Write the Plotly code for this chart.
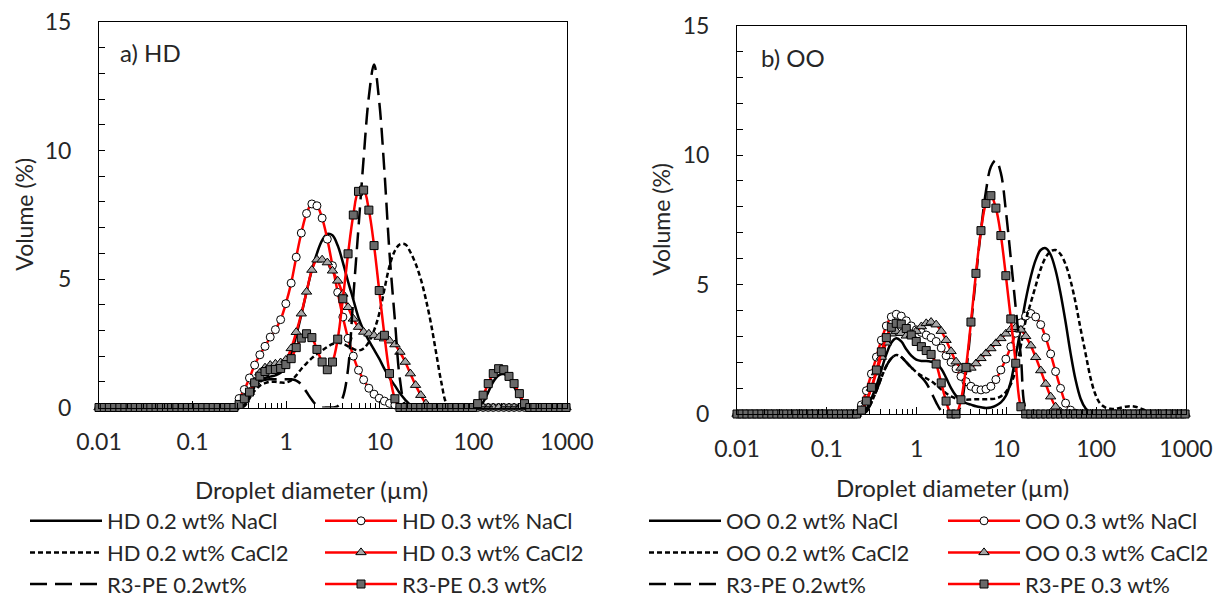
import plotly.graph_objects as go

# Mastersizer size classes (µm) within 0.01-1000
SIZES = [0.0100, 0.0114, 0.0129, 0.0147, 0.0167, 0.0189, 0.0215, 0.0244, 0.0278, 0.0315,
         0.0358, 0.0407, 0.0463, 0.0526, 0.0597, 0.0679, 0.0771, 0.0876, 0.0995, 0.113,
         0.128, 0.146, 0.166, 0.188, 0.214, 0.243, 0.276, 0.314, 0.357, 0.405,
         0.460, 0.523, 0.594, 0.675, 0.767, 0.872, 0.991, 1.13, 1.28, 1.45,
         1.65, 1.88, 2.13, 2.42, 2.75, 3.12, 3.55, 4.03, 4.58, 5.21,
         5.92, 6.72, 7.64, 8.68, 9.86, 11.2, 12.7, 14.5, 16.4, 18.7,
         21.2, 24.1, 27.4, 31.1, 35.3, 40.1, 45.6, 51.8, 58.9, 66.9,
         76.0, 86.4, 98.1, 111, 127, 144, 163, 186, 211, 240,
         272, 310, 352, 400, 454, 516, 586, 666, 756, 859,
         976]

# ---------------- a) HD ----------------
HD_NACL_02 = [0, 0, 0, 0, 0, 0, 0, 0, 0, 0,
              0, 0, 0, 0, 0, 0, 0, 0, 0, 0,
              0, 0, 0, 0, 0, 0, 0, 0, 0.1, 0.45,
              0.85, 1.05, 1.15, 1.2, 1.25, 1.35, 1.6, 2.1, 2.8, 3.6,
              4.5, 5.35, 6.0, 6.5, 6.75, 6.7, 6.3, 5.65, 4.9, 4.2,
              3.5, 3.0, 2.6, 2.25, 1.9, 1.5, 1.15, 0.85, 0.55, 0.3,
              0.1, 0, 0, 0, 0, 0, 0, 0, 0, 0,
              0, 0, 0, 0, 0.2, 0.6, 1.0, 1.25, 1.3, 1.15,
              0.8, 0.45, 0.15, 0, 0, 0, 0, 0, 0, 0,
              0]
HD_NACL_03 = [0, 0, 0, 0, 0, 0, 0, 0, 0, 0,
              0, 0, 0, 0, 0, 0, 0, 0, 0, 0,
              0, 0, 0, 0, 0, 0, 0, 0.35, 0.7, 1.15,
              1.65, 2.05, 2.38, 2.74, 3.03, 3.42, 4.04, 4.84, 5.85, 6.79,
              7.55, 7.92, 7.85, 7.37, 6.55, 5.52, 4.48, 3.52, 2.69, 2.0,
              1.45, 1.08, 0.75, 0.52, 0.36, 0.25, 0.16, 0.1, 0, 0,
              0, 0, 0, 0, 0, 0, 0, 0, 0, 0,
              0, 0, 0, 0, 0, 0, 0, 0, 0, 0,
              0, 0, 0, 0, 0, 0, 0, 0, 0, 0,
              0]
HD_CACL_02 = [0, 0, 0, 0, 0, 0, 0, 0, 0, 0,
              0, 0, 0, 0, 0, 0, 0, 0, 0, 0,
              0, 0, 0, 0, 0, 0, 0, 0, 0.05, 0.35,
              0.65, 0.85, 0.95, 1.0, 1.0, 0.97, 0.97, 1.05, 1.25, 1.5,
              1.72, 1.92, 2.08, 2.22, 2.36, 2.47, 2.52, 2.48, 2.38, 2.28,
              2.22, 2.3, 2.55, 3.0, 3.65, 4.6, 5.5, 6.1, 6.35, 6.35,
              6.05, 5.6, 5.0, 4.2, 3.25, 2.1, 0.95, 0.15, 0, 0,
              0, 0, 0, 0, 0, 0, 0, 0, 0, 0,
              0, 0, 0, 0, 0, 0, 0, 0, 0, 0,
              0]
HD_CACL_03 = [0, 0, 0, 0, 0, 0, 0, 0, 0, 0,
              0, 0, 0, 0, 0, 0, 0, 0, 0, 0,
              0, 0, 0, 0, 0, 0, 0, 0.1, 0.3, 0.6,
              1.0, 1.35, 1.55, 1.65, 1.7, 1.75, 1.85, 2.3, 2.93, 3.65,
              4.5, 5.35, 5.75, 5.75, 5.64, 5.32, 4.93, 4.42, 3.9, 3.45,
              3.13, 2.94, 2.87, 2.8, 2.74, 2.68, 2.6, 2.45, 2.16, 1.77,
              1.32, 0.87, 0.48, 0.15, 0, 0, 0, 0, 0, 0,
              0, 0, 0, 0, 0, 0, 0, 0, 0, 0,
              0, 0, 0, 0, 0, 0, 0, 0, 0, 0,
              0]
HD_R3PE_02 = [0, 0, 0, 0, 0, 0, 0, 0, 0, 0,
              0, 0, 0, 0, 0, 0, 0, 0, 0, 0,
              0, 0, 0, 0, 0, 0, 0, 0, 0.05, 0.4,
              0.8, 1.0, 1.08, 1.1, 1.1, 1.1, 1.1, 1.1, 1.05, 0.9,
              0.6, 0.3, 0.08, 0, 0, 0, 0.05, 0.4, 1.5, 4.3,
              7.0, 9.7, 12.1, 13.35, 11.9, 9.2, 6.0, 3.4, 1.1, 0.1,
              0, 0, 0, 0, 0, 0, 0, 0, 0, 0,
              0, 0, 0, 0, 0, 0, 0, 0, 0, 0,
              0, 0, 0, 0, 0, 0, 0, 0, 0, 0,
              0]
HD_R3PE_03 = [0, 0, 0, 0, 0, 0, 0, 0, 0, 0,
              0, 0, 0, 0, 0, 0, 0, 0, 0, 0,
              0, 0, 0, 0, 0, 0, 0, 0.12, 0.34, 0.6,
              0.96, 1.22, 1.4, 1.47, 1.48, 1.52, 1.67, 1.9, 2.33, 2.7,
              2.87, 2.72, 2.26, 1.77, 1.47, 1.77, 2.66, 4.23, 5.98, 7.49,
              8.41, 8.46, 7.68, 6.3, 4.55, 2.81, 1.32, 0.34, 0, 0,
              0, 0, 0, 0, 0, 0, 0, 0, 0, 0,
              0, 0, 0, 0.15, 0.48, 0.93, 1.32, 1.51, 1.47, 1.21,
              0.93, 0.54, 0.15, 0, 0, 0, 0, 0, 0, 0,
              0]

# ---------------- b) OO ----------------
OO_NACL_02 = [0, 0, 0, 0, 0, 0, 0, 0, 0, 0,
              0, 0, 0, 0, 0, 0, 0, 0, 0, 0,
              0, 0, 0, 0, 0, 0, 0.2, 0.6, 1.1, 1.7,
              2.3, 2.75, 2.92, 2.8, 2.5, 2.25, 2.1, 2.05, 2.05, 2.02,
              1.95, 1.75, 1.4, 1.0, 0.7, 0.5, 0.42, 0.36, 0.3, 0.26,
              0.23, 0.25, 0.32, 0.45, 0.7, 1.25, 2.25, 3.35, 4.4, 5.3,
              5.95, 6.33, 6.4, 6.15, 5.55, 4.65, 3.55, 2.35, 1.32, 0.6,
              0.22, 0.05, 0, 0, 0, 0, 0, 0, 0, 0,
              0, 0, 0, 0, 0, 0, 0, 0, 0, 0,
              0]
OO_NACL_03 = [0, 0, 0, 0, 0, 0, 0, 0, 0, 0,
              0, 0, 0, 0, 0, 0, 0, 0, 0, 0,
              0, 0, 0, 0, 0, 0.35, 0.9, 1.55, 2.2, 2.85,
              3.4, 3.75, 3.85, 3.78, 3.6, 3.4, 3.25, 3.15, 3.05, 2.95,
              2.8, 2.55, 2.25, 2.0, 1.75, 1.45, 1.25, 1.07, 0.96, 0.93,
              0.96, 1.07, 1.33, 1.7, 2.12, 2.6, 3.12, 3.52, 3.78, 3.88,
              3.75, 3.45, 2.95, 2.32, 1.64, 0.99, 0.42, 0.15, 0.03, 0,
              0, 0, 0, 0, 0, 0, 0, 0, 0, 0,
              0, 0, 0, 0, 0, 0, 0, 0, 0, 0,
              0]
OO_CACL_02 = [0, 0, 0, 0, 0, 0, 0, 0, 0, 0,
              0, 0, 0, 0, 0, 0, 0, 0, 0, 0,
              0, 0, 0, 0, 0, 0, 0.1, 0.45, 0.9, 1.4,
              1.85, 2.15, 2.28, 2.2, 2.0, 1.8, 1.62, 1.48, 1.38, 1.27,
              1.12, 0.95, 0.8, 0.68, 0.6, 0.56, 0.55, 0.56, 0.57, 0.57,
              0.57, 0.58, 0.6, 0.68, 0.85, 1.15, 1.7, 2.65, 3.6, 4.3,
              4.95, 5.6, 6.05, 6.28, 6.33, 6.17, 5.78, 5.15, 4.3, 3.3,
              2.35, 1.4, 0.75, 0.4, 0.25, 0.2, 0.2, 0.24, 0.28, 0.3,
              0.28, 0.22, 0.14, 0.07, 0.02, 0, 0, 0, 0, 0,
              0]
OO_CACL_03 = [0, 0, 0, 0, 0, 0, 0, 0, 0, 0,
              0, 0, 0, 0, 0, 0, 0, 0, 0, 0,
              0, 0, 0, 0, 0, 0.15, 0.5, 1.0, 1.6, 2.2,
              2.75, 3.1, 3.2, 3.12, 3.02, 3.05, 3.2, 3.38, 3.5, 3.55,
              3.45, 3.2, 2.85, 2.42, 2.02, 1.78, 1.72, 1.78, 1.95, 2.15,
              2.34, 2.53, 2.73, 2.92, 3.1, 3.27, 3.35, 3.25, 3.0, 2.64,
              2.19, 1.68, 1.16, 0.67, 0.28, 0.08, 0, 0, 0, 0,
              0, 0, 0, 0, 0, 0, 0, 0, 0, 0,
              0, 0, 0, 0, 0, 0, 0, 0, 0, 0,
              0]
OO_R3PE_02 = [0, 0, 0, 0, 0, 0, 0, 0, 0, 0,
              0, 0, 0, 0, 0, 0, 0, 0, 0, 0,
              0, 0, 0, 0, 0, 0, 0.1, 0.45, 0.9, 1.4,
              1.85, 2.15, 2.28, 2.2, 2.0, 1.8, 1.6, 1.42, 1.2, 0.85,
              0.45, 0.12, 0, 0, 0, 0.35, 1.6, 3.4, 5.3, 7.1,
              8.6, 9.55, 9.8, 9.3, 7.85, 6.0, 4.1, 2.2, 0.2, 0,
              0, 0, 0, 0, 0, 0, 0, 0, 0, 0,
              0, 0, 0, 0, 0, 0, 0, 0, 0, 0,
              0, 0, 0, 0, 0, 0, 0, 0, 0, 0,
              0]
OO_R3PE_03 = [0, 0, 0, 0, 0, 0, 0, 0, 0, 0,
              0, 0, 0, 0, 0, 0, 0, 0, 0, 0,
              0, 0, 0, 0, 0, 0.15, 0.5, 1.03, 1.7, 2.4,
              2.95, 3.35, 3.5, 3.47, 3.3, 3.05, 2.8, 2.6, 2.45, 2.3,
              1.93, 1.2, 0.5, 0, 0, 0.55, 1.8, 3.55, 5.43, 7.08,
              8.13, 8.43, 7.95, 6.89, 5.34, 3.67, 1.96, 0.28, 0, 0,
              0, 0, 0, 0, 0, 0, 0, 0, 0, 0,
              0, 0, 0, 0, 0, 0, 0, 0, 0, 0,
              0, 0, 0, 0, 0, 0, 0, 0, 0, 0,
              0]

HD_NAMES = ["HD 0.2 wt% NaCl", "HD 0.3 wt% NaCl", "HD 0.2 wt% CaCl2",
            "HD 0.3 wt% CaCl2", "R3-PE 0.2wt%", "R3-PE 0.3 wt%"]
OO_NAMES = ["OO 0.2 wt% NaCl", "OO 0.3 wt% NaCl", "OO 0.2 wt% CaCl2",
            "OO 0.3 wt% CaCl2", "R3-PE 0.2wt%", "R3-PE 0.3 wt%"]
X_TICKS = [0.01, 0.1, 1, 10, 100, 1000]
X_TICKTEXT = ["0.01", "0.1", "1", "10", "100", "1000"]
Y_TICKS = [0, 5, 10, 15]

FONT = "Lato, 'Open Sans', sans-serif"
TXT = "#262626"
LW = 2.5

STYLES = [
    dict(mode="lines", line=dict(color="black", width=LW, shape="spline")),
    dict(mode="lines+markers", line=dict(color="#ff0000", width=LW, shape="spline"),
         marker=dict(symbol="circle", size=8, color="white", line=dict(color="black", width=1))),
    dict(mode="lines", line=dict(color="black", width=LW, shape="spline", dash="5px,3px")),
    dict(mode="lines+markers", line=dict(color="#ff0000", width=LW, shape="spline"),
         marker=dict(symbol="triangle-up", size=9, color="#a6a6a6", line=dict(color="black", width=1))),
    dict(mode="lines", line=dict(color="black", width=LW, shape="spline", dash="17px,8px")),
    dict(mode="lines+markers", line=dict(color="#ff0000", width=LW, shape="spline"),
         marker=dict(symbol="square", size=8, color="#696969", line=dict(color="black", width=1))),
]

fig = go.Figure()


def add_panel(names, series, xa, ya, leg_a, leg_b):
    for i, (nm, vals) in enumerate(zip(names, series)):
        st = STYLES[i]
        fig.add_trace(go.Scatter(
            x=SIZES, y=vals, name=nm, xaxis=xa, yaxis=ya,
            legend=leg_a if i % 2 == 0 else leg_b,
            legendgroup=xa + nm, cliponaxis=False, hoverinfo="skip",
            **st))


add_panel(HD_NAMES, [HD_NACL_02, HD_NACL_03, HD_CACL_02, HD_CACL_03, HD_R3PE_02, HD_R3PE_03],
          "x", "y", "legend", "legend2")
add_panel(OO_NAMES, [OO_NACL_02, OO_NACL_03, OO_CACL_02, OO_CACL_03, OO_R3PE_02, OO_R3PE_03],
          "x2", "y2", "legend3", "legend4")

minor_x = [m * 10 ** e for e in range(-2, 3) for m in range(2, 10)]


def xaxis(domain):
    return dict(domain=domain, type="log", range=[-2, 3], showline=True, linecolor="black",
                linewidth=1, mirror=True, ticks="inside", ticklen=7, tickcolor="black",
                tickvals=X_TICKS, ticktext=X_TICKTEXT, showgrid=False, zeroline=False,
                automargin=False,
                tickfont=dict(family=FONT, size=23, color=TXT), ticklabelstandoff=14,
                minor=dict(ticks="inside", ticklen=5, tickcolor="black", tickvals=minor_x,
                           showgrid=False))


def yaxis(domain, anchor):
    return dict(domain=domain, anchor=anchor, range=[0, 15], showline=True, linecolor="black",
                linewidth=1, mirror=True, ticks="inside", ticklen=6, tickcolor="black",
                tickvals=Y_TICKS, showgrid=False, zeroline=False, automargin=False,
                tickfont=dict(family=FONT, size=23, color=TXT), ticklabelstandoff=22,
                minor=dict(ticks="inside", ticklen=6, tickcolor="black", dtick=1, showgrid=False))


W, H = 1224, 603


def legend(x, y=500):
    return dict(x=x / W, y=1 - y / H, xref="container", yref="container",
                xanchor="left", yanchor="top", orientation="v",
                font=dict(family=FONT, size=22, color=TXT), itemwidth=72,
                tracegroupgap=3, bgcolor="rgba(0,0,0,0)", traceorder="normal")


fig.update_layout(
    width=W, height=H, margin=dict(l=0, r=0, t=0, b=0, autoexpand=False),
    paper_bgcolor="white", plot_bgcolor="white",
    font=dict(family=FONT, size=23, color=TXT),
    xaxis=dict(**xaxis([99 / W, 567 / W]), anchor="y"),
    yaxis=yaxis([1 - 407.5 / H, 1 - 22 / H], "x"),
    xaxis2=dict(**xaxis([737 / W, 1186 / W]), anchor="y2"),
    yaxis2=yaxis([1 - 414 / H, 1 - 25.5 / H], "x2"),
    showlegend=True,
    legend=legend(25), legend2=legend(320),
    legend3=legend(644), legend4=legend(943),
)

ann = [
    dict(text="a) HD", x=118 / W, y=1 - 52 / H, xanchor="left", yanchor="middle", size=24),
    dict(text="b) OO", x=759 / W, y=1 - 57 / H, xanchor="left", yanchor="middle", size=24),
    dict(text="Droplet diameter (µm)", x=311 / W, y=1 - 489 / H, xanchor="center", yanchor="middle", size=24),
    dict(text="Droplet diameter (µm)", x=952 / W, y=1 - 487 / H, xanchor="center", yanchor="middle", size=24),
]
for a in ann:
    fig.add_annotation(text=a["text"], x=a["x"], y=a["y"], xref="paper", yref="paper",
                       xanchor=a["xanchor"], yanchor=a["yanchor"], showarrow=False,
                       font=dict(family=FONT, size=a["size"], color=TXT))
for xc, yc in [(24, 214.7), (661, 219.8)]:
    fig.add_annotation(text="Volume (%)", x=xc / W, y=1 - yc / H, xref="paper", yref="paper",
                       xanchor="center", yanchor="middle", textangle=-90, showarrow=False,
                       font=dict(family=FONT, size=23, color=TXT))

fig.write_html("out.html", config={"displayModeBar": False},
               post_script="document.body.style.margin='0';document.body.style.overflow='hidden';")
